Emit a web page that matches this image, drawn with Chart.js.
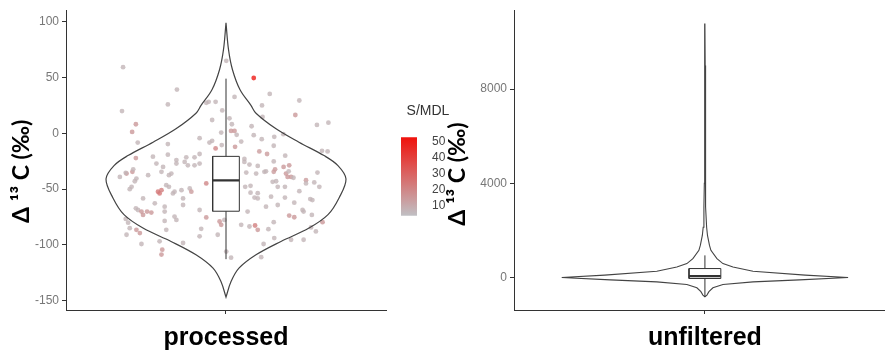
<!DOCTYPE html>
<html>
<head>
<meta charset="utf-8">
<script src="https://cdn.jsdelivr.net/npm/chart.js@4.4.1/dist/chart.umd.min.js"></script>
<style>
  body { margin: 0; background: #fff; }
  #wrap { position: relative; width: 885px; height: 353px; overflow: hidden; }
  canvas { position: absolute; }
</style>
</head>
<body>
<div id="wrap">
  <canvas id="processed-chart" width="390" height="353" style="left:0;top:0"></canvas>
  <canvas id="legend-chart" width="62" height="137" style="left:393px;top:93px"></canvas>
  <canvas id="unfiltered-chart" width="455" height="353" style="left:430px;top:0"></canvas>
</div>
<script>
const categories = ['processed', 'unfiltered'];

// violin outlines, top to bottom: value and relative half width (1 = widest)
const processedViolinY = [99, 75, 57, 39, 25, 18, 4, -8, -20, -29, -41, -58, -73, -85, -97, -109, -121, -133, -147];
const processedViolinW = [0, 0.021, 0.054, 0.117, 0.208, 0.25, 0.417, 0.608, 0.817, 0.933, 1, 0.942, 0.85, 0.692, 0.458, 0.25, 0.108, 0.042, 0];
const unfilteredViolinY = [10785, 9000, 6000, 4000, 3000, 2135, 1785, 1360, 1152, 800, 590, 447, 265, 100, 0, -100, -186, -296, -437, -600, -747, -818];
const unfilteredViolinW = [0, 0.002, 0.003, 0.004, 0.007, 0.012, 0.018, 0.032, 0.042, 0.084, 0.126, 0.196, 0.336, 0.7, 1, 0.66, 0.336, 0.126, 0.056, 0.028, 0.014, 0];

// boxplots: lower whisker, q1, median, q3, upper whisker
const processedBox = [-112.9, -69.9, -42.3, -20.7, 49];
const unfilteredBox = [-818, -42, 60, 380, 940];

// jittered points of the processed set: x position, Δ13C, S/MDL
const processedPoints = [
  [0.614, 59.3, 7], [0.816, 39.2, 7], [0.782, 25.9, 7], [0.610, 19.9, 7], [0.926, 27.3, 7],
  [0.935, 28.2, 7], [0.961, 28.2, 7], [0.986, 20.5, 7], [0.662, 8.1, 15], [0.648, 1.2, 15],
  [0.948, 11.9, 7], [0.982, 0.6, 7], [0.669, -8.3, 7], [0.782, -9.7, 7], [0.901, -4.4, 7],
  [0.938, -8.3, 7], [0.948, -6.8, 7], [0.961, -13.6, 20], [0.984, -10.6, 7], [0.726, -21.0, 7],
  [0.782, -19.2, 7], [0.662, -22.2, 15], [0.851, -21.6, 7], [0.882, -21.6, 7], [0.901, -18.6, 7],
  [0.814, -24.0, 7], [1.001, 65.0, 7], [1.104, 49.6, 50], [1.032, 32.6, 7], [1.164, 35.3, 7],
  [1.135, 25.0, 7], [1.275, 29.4, 7], [1.260, 16.4, 15], [1.341, 7.5, 7], [1.384, 9.5, 7],
  [1.013, 13.4, 7], [1.022, 8.1, 7], [1.019, 2.1, 15], [1.032, 2.1, 15], [1.040, -1.4, 7],
  [1.096, 6.3, 7], [1.104, -1.7, 7], [1.134, -5.3, 7], [1.057, -7.4, 7], [1.181, -3.2, 7],
  [1.215, -0.8, 7], [1.034, -12.1, 15], [1.179, -11.2, 7], [1.125, -16.3, 14], [1.154, -18.6, 14],
  [1.222, -20.1, 7], [1.360, -15.7, 7], [1.381, -16.3, 7], [1.069, -23.0, 7], [1.137, 14.6, 7],
  [0.627, -36.1, 15], [0.649, -34.6, 15], [0.652, -32.3, 7], [0.602, -39.1, 7], [0.664, -40.6, 7],
  [0.658, -43.0, 7], [0.708, -37.6, 7], [0.739, -27.2, 7], [0.764, -30.2, 7], [0.758, -34.6, 7],
  [0.795, -36.1, 7], [0.786, -37.6, 7], [0.814, -27.2, 7], [0.845, -25.7, 7], [0.857, -28.7, 7],
  [0.882, -28.7, 7], [0.901, -27.2, 7], [0.646, -48.0, 7], [0.639, -50.1, 7], [0.745, -52.4, 24],
  [0.751, -53.9, 24], [0.758, -51.0, 22], [0.776, -46.5, 7], [0.786, -48.0, 7], [0.807, -52.4, 7],
  [0.801, -53.9, 7], [0.833, -51.0, 7], [0.864, -49.5, 7], [0.870, -52.4, 14], [0.926, -45.0, 20],
  [0.689, -58.4, 7], [0.839, -58.4, 7], [0.839, -64.3, 7], [0.733, -62.8, 7], [0.662, -67.3, 7],
  [0.670, -68.8, 7], [0.683, -70.2, 15], [0.689, -73.2, 15], [0.704, -70.2, 15], [0.720, -71.1, 15],
  [0.770, -65.8, 7], [0.770, -70.2, 7], [0.807, -74.7, 7], [0.814, -77.7, 7], [0.901, -68.8, 7],
  [0.624, -76.8, 7], [0.770, -78.6, 7], [0.926, -75.5, 15], [0.976, -79.1, 15], [0.982, -82.1, 15],
  [0.994, -77.7, 7], [0.639, -85.1, 7], [0.664, -86.6, 15], [0.677, -89.5, 15], [0.776, -86.6, 7],
  [0.907, -85.7, 7], [0.627, -91.0, 7], [0.901, -92.4, 7], [0.969, -91.0, 7], [0.751, -96.9, 7],
  [0.683, -99.3, 7], [0.761, -104.4, 15], [0.758, -108.8, 15], [0.839, -98.4, 7], [1.069, -25.7, 7],
  [1.088, -28.1, 7], [1.119, -29.3, 7], [1.179, -25.2, 7], [1.216, -30.2, 15], [1.237, -28.7, 15],
  [1.076, -35.2, 7], [1.113, -36.1, 7], [1.144, -34.6, 7], [1.150, -34.1, 7], [1.179, -34.6, 14],
  [1.184, -32.3, 14], [1.225, -36.1, 15], [1.235, -34.1, 7], [1.231, -39.1, 15], [1.244, -39.1, 15],
  [1.253, -39.9, 7], [1.343, -35.2, 7], [1.072, -48.0, 7], [1.092, -47.1, 7], [1.175, -43.5, 7],
  [1.188, -43.0, 7], [1.194, -48.0, 7], [1.221, -48.0, 7], [1.300, -42.1, 14], [1.300, -45.0, 7],
  [1.331, -44.1, 7], [1.275, -51.9, 7], [1.350, -48.0, 7], [1.092, -53.3, 7], [1.119, -53.7, 7],
  [1.107, -57.7, 7], [1.119, -58.4, 7], [1.169, -56.9, 7], [1.221, -57.7, 7], [1.256, -62.2, 7],
  [1.316, -59.0, 7], [1.324, -59.9, 7], [1.150, -65.8, 7], [1.194, -64.3, 7], [1.081, -70.2, 7],
  [1.287, -68.8, 7], [1.291, -70.2, 7], [1.237, -73.8, 15], [1.256, -75.3, 15], [1.322, -73.2, 7],
  [1.179, -79.7, 7], [1.057, -82.1, 7], [1.088, -83.6, 7], [1.109, -82.7, 22], [1.119, -86.6, 15],
  [1.159, -86.0, 7], [1.319, -84.4, 7], [1.337, -88.0, 7], [1.362, -79.7, 15], [1.181, -94.0, 7],
  [1.244, -95.5, 7], [1.291, -95.5, 7], [1.141, -99.3, 7], [1.019, -111.6, 7], [1.132, -111.1, 7],
  [1.001, -106.1, 7], [0.624, -35.5, 7], [0.633, -80.2, 7]
];

const processedTicks = [-150, -100, -50, 0, 50, 100];
const unfilteredTicks = [0, 4000, 8000];
const legendTicks = [10, 20, 30, 40, 50];
const sRange = [3.8, 52.7];

const lowColor = [192, 192, 196];
const highColor = [240, 18, 12];
function sColor(s, a) {
    let t = (s - sRange[0]) / (sRange[1] - sRange[0]);
    t = Math.min(1, Math.max(0, t));
    const c = lowColor.map((v, i) => Math.round(v + (highColor[i] - v) * t));
    return 'rgba(' + c[0] + ',' + c[1] + ',' + c[2] + ',' + a + ')';
}

function violinPath(ys, ws) {
    const half = 0.45;
    const right = ys.map((y, i) => ({ x: 1 + ws[i] * half, y: y }));
    const left = ys.map((y, i) => ({ x: 1 - ws[i] * half, y: y })).reverse();
    return right.concat(left);
}

function boxDatasets(box) {
    const bw = 0.05;
    return [
        { // median
            data: [{ x: 1 - bw, y: box[2] }, { x: 1 + bw, y: box[2] }],
            showLine: true, borderColor: '#333', borderWidth: 2.2, pointRadius: 0
        },
        { // box
            data: [{ x: 1 - bw, y: box[1] }, { x: 1 + bw, y: box[1] }, { x: 1 + bw, y: box[3] },
                   { x: 1 - bw, y: box[3] }, { x: 1 - bw, y: box[1] }],
            showLine: true, fill: 'shape', backgroundColor: '#fff',
            borderColor: '#333', borderWidth: 1, pointRadius: 0
        },
        { // whiskers
            data: [{ x: 1, y: box[0] }, { x: 1, y: box[4] }],
            showLine: true, borderColor: '#333', borderWidth: 1, pointRadius: 0
        }
    ];
}

const axisGrid = { drawOnChartArea: false, tickLength: 4, color: '#333', lineWidth: 1 };
const axisBorder = { color: '#333', width: 1 };
const tickFont = { family: 'Liberation Sans', size: 12 };
const catFont = { family: 'Liberation Sans', size: 25, weight: 'bold' };
const titleFont = { family: 'Lato', size: 23, weight: 'bold' };

function panelOptions(cat, yMin, yMax, yTicks, xMax, yWidth, titlePad, titleText, padRight) {
    return {
        responsive: false,
        animation: false,
        layout: { padding: { left: 0, right: padRight, top: 8, bottom: 0 } },
        plugins: { legend: { display: false }, tooltip: { enabled: false } },
        scales: {
            x: {
                type: 'linear', min: 0.4, max: xMax,
                afterBuildTicks: s => { s.ticks = [{ value: 1 }]; },
                ticks: { callback: () => cat, font: catFont, color: '#000', padding: 9, maxRotation: 0 },
                grid: axisGrid, border: axisBorder,
                afterFit: s => { s.height = 43; }
            },
            y: {
                min: yMin, max: yMax,
                afterBuildTicks: s => { s.ticks = yTicks.map(v => ({ value: v })); },
                ticks: { font: tickFont, color: '#777', padding: 3, callback: v => String(v) },
                grid: axisGrid, border: axisBorder,
                title: { display: true, text: titleText, font: titleFont, color: '#000',
                         padding: { top: titlePad, bottom: 0 } },
                afterFit: s => { s.width = yWidth; }
            }
        }
    };
}

// processed panel
new Chart(document.getElementById('processed-chart'), {
    type: 'scatter',
    data: {
        datasets: boxDatasets(processedBox).concat([
            {
                data: violinPath(processedViolinY, processedViolinW),
                showLine: true, tension: 0.35, borderColor: '#444', borderWidth: 1.2, pointRadius: 0
            },
            {
                data: processedPoints.map(p => ({ x: p[0], y: p[1] })),
                pointRadius: 2.4, borderWidth: 0,
                pointBackgroundColor: processedPoints.map(p => sColor(p[2], 0.8))
            }
        ])
    },
    options: panelOptions(categories[0], -158.5, 110.4, processedTicks, 1.6, 66, 8,
                          'Δ ¹³ C (‰)    ', 3)
});

// unfiltered panel
new Chart(document.getElementById('unfiltered-chart'), {
    type: 'scatter',
    data: {
        datasets: boxDatasets(unfilteredBox).concat([
            {
                data: violinPath(unfilteredViolinY, unfilteredViolinW),
                showLine: true, tension: 0, borderColor: '#444', borderWidth: 1.1, pointRadius: 0
            }
        ])
    },
    options: panelOptions(categories[1], -1380, 11350, unfilteredTicks, 1.566, 84, 14,
                          'Δ ¹³ C (‰)     ', 0)
});

// S/MDL colour bar
new Chart(document.getElementById('legend-chart'), {
    type: 'bar',
    data: {
        labels: ['S/MDL'],
        datasets: [{
            data: [[sRange[0], sRange[1]]],
            barPercentage: 1, categoryPercentage: 1, borderWidth: 0,
            backgroundColor: ctx => {
                const area = ctx.chart.chartArea;
                if (!area) return sColor(sRange[0], 1);
                const g = ctx.chart.ctx.createLinearGradient(0, area.bottom, 0, area.top);
                for (let k = 0; k <= 10; k++) {
                    g.addColorStop(k / 10, sColor(sRange[0] + k / 10 * (sRange[1] - sRange[0]), 1));
                }
                return g;
            }
        }]
    },
    options: {
        responsive: false,
        animation: false,
        layout: { padding: { left: 8, right: 0, top: 0, bottom: 14 } },
        plugins: {
            legend: { display: false }, tooltip: { enabled: false },
            title: { display: true, text: 'S/MDL', color: '#333',
                     font: { family: 'Liberation Sans', size: 14, weight: 'normal' },
                     padding: { top: 10, bottom: 17.5 } }
        },
        scales: {
            x: { display: false },
            y: {
                position: 'right', min: sRange[0], max: sRange[1],
                afterBuildTicks: s => { s.ticks = legendTicks.map(v => ({ value: v })); },
                ticks: { font: tickFont, color: '#444', padding: 7 },
                grid: { display: false }, border: { display: false },
                afterFit: s => { s.width = 38; }
            }
        }
    }
});
</script>
</body>
</html>
